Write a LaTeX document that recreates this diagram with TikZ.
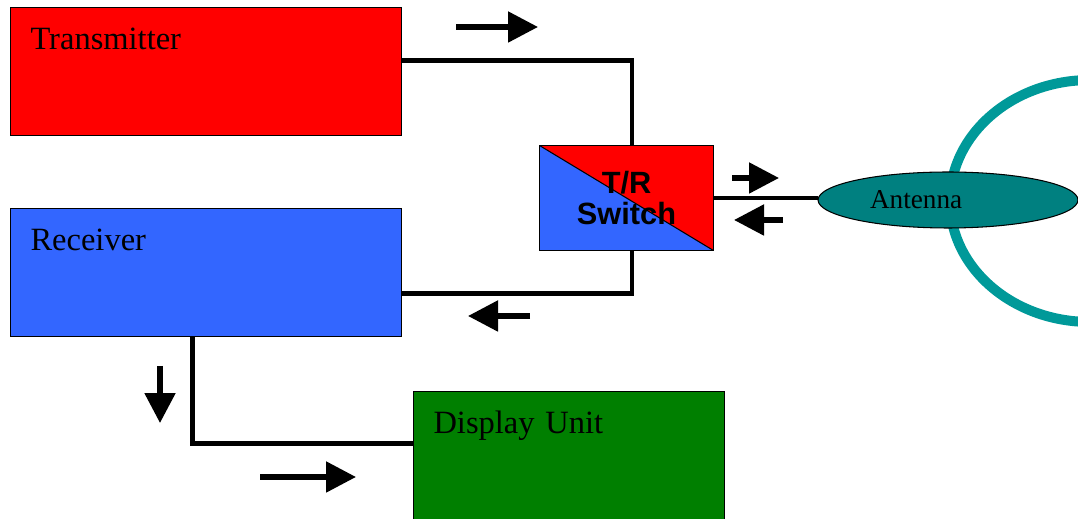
\documentclass[tikz,border=0pt]{standalone}
\usepackage{fontspec}
\setmainfont{Liberation Serif}
\setsansfont{Liberation Sans}
\usepackage{xcolor}
\usetikzlibrary{arrows.meta}
\usetikzlibrary{shapes.geometric}
\usetikzlibrary{positioning}
\definecolor{vermelho}{HTML}{FF0000}
\definecolor{azul}{HTML}{3366FF}
\definecolor{verde}{HTML}{007F00}
\definecolor{petroleo}{HTML}{008080}
\definecolor{anelcor}{HTML}{009999}
\tikzset{
  unidade/.style={draw, line width=0.6pt, fill=#1, anchor=north west, align=left, inner xsep=0.4cm, inner ysep=0pt, text height=0.83cm, text depth=1.73cm, font=\fontsize{18.5}{20}\selectfont},
  ligacao/.style={line width=2.3pt},
  sinal/.style={-{Triangle[length=0.6cm,width=0.6cm]}, line width=3pt},
}

\begin{document}
\begin{tikzpicture}[x=0.02cm, y=-0.02cm]
  \useasboundingbox (0,0) rectangle (1078,519);
  % radiation lobe
  \begin{scope}
    \clip (0,0) rectangle (1078,519);
    \draw[anelcor, line width=0.2cm] (1090,201) ellipse [x radius=2.8cm, y radius=2.42cm];
  \end{scope}
  % units
  \node[unidade=vermelho, text width=7.02cm] (tx) at (10,7) {Transmitter};
  \node[unidade=azul, text width=7.02cm] (rx) at (10,208) {Receiver};
  \node[unidade=verde, text width=5.42cm] (du) at (413,391) {Display Unit};
  % switch
  \node[draw, line width=0.6pt, anchor=north west, minimum width=3.48cm, minimum height=2.1cm, align=center, font=\sffamily\bfseries\fontsize{17.5}{18}\selectfont,
    path picture={
      \fill[vermelho] (path picture bounding box.north west) -- (path picture bounding box.north east) -- (path picture bounding box.south east) -- cycle;
      \fill[azul] (path picture bounding box.north west) -- (path picture bounding box.south west) -- (path picture bounding box.south east) -- cycle;
      \draw[line width=0.6pt] (path picture bounding box.north west) -- (path picture bounding box.south east);
    }] (sw) at (539,145) {T/R\\Switch};
  % antenna
  \node[ellipse, draw, line width=0.6pt, fill=petroleo, minimum width=5.2cm, minimum height=1.12cm, text width=3.12cm, align=left, inner sep=0pt, font=\fontsize{15.5}{16}\selectfont] (ant) at (948,200) {Antenna};
  % links
  \draw[ligacao] ([yshift=0.22cm]tx.east) -| ([xshift=0.11cm]sw.north);
  \draw[ligacao] ([xshift=0.11cm]sw.south) |- ([yshift=-0.42cm]rx.east);
  \draw[ligacao] (sw.east) -- (sw.east -| ant.west);
  \draw[ligacao] ([xshift=-0.27cm]rx.south) |- ([yshift=0.24cm]du.west);
  % signal direction
  \foreach \a/\b in {{456,27}/{538,27}, {732,178}/{779,178}, {783,220}/{734,220}, {530,316}/{468,316}, {160,366}/{160,423}, {260,477}/{356,477}}
    \draw[sinal] (\a) -- (\b);
\end{tikzpicture}
\end{document}
